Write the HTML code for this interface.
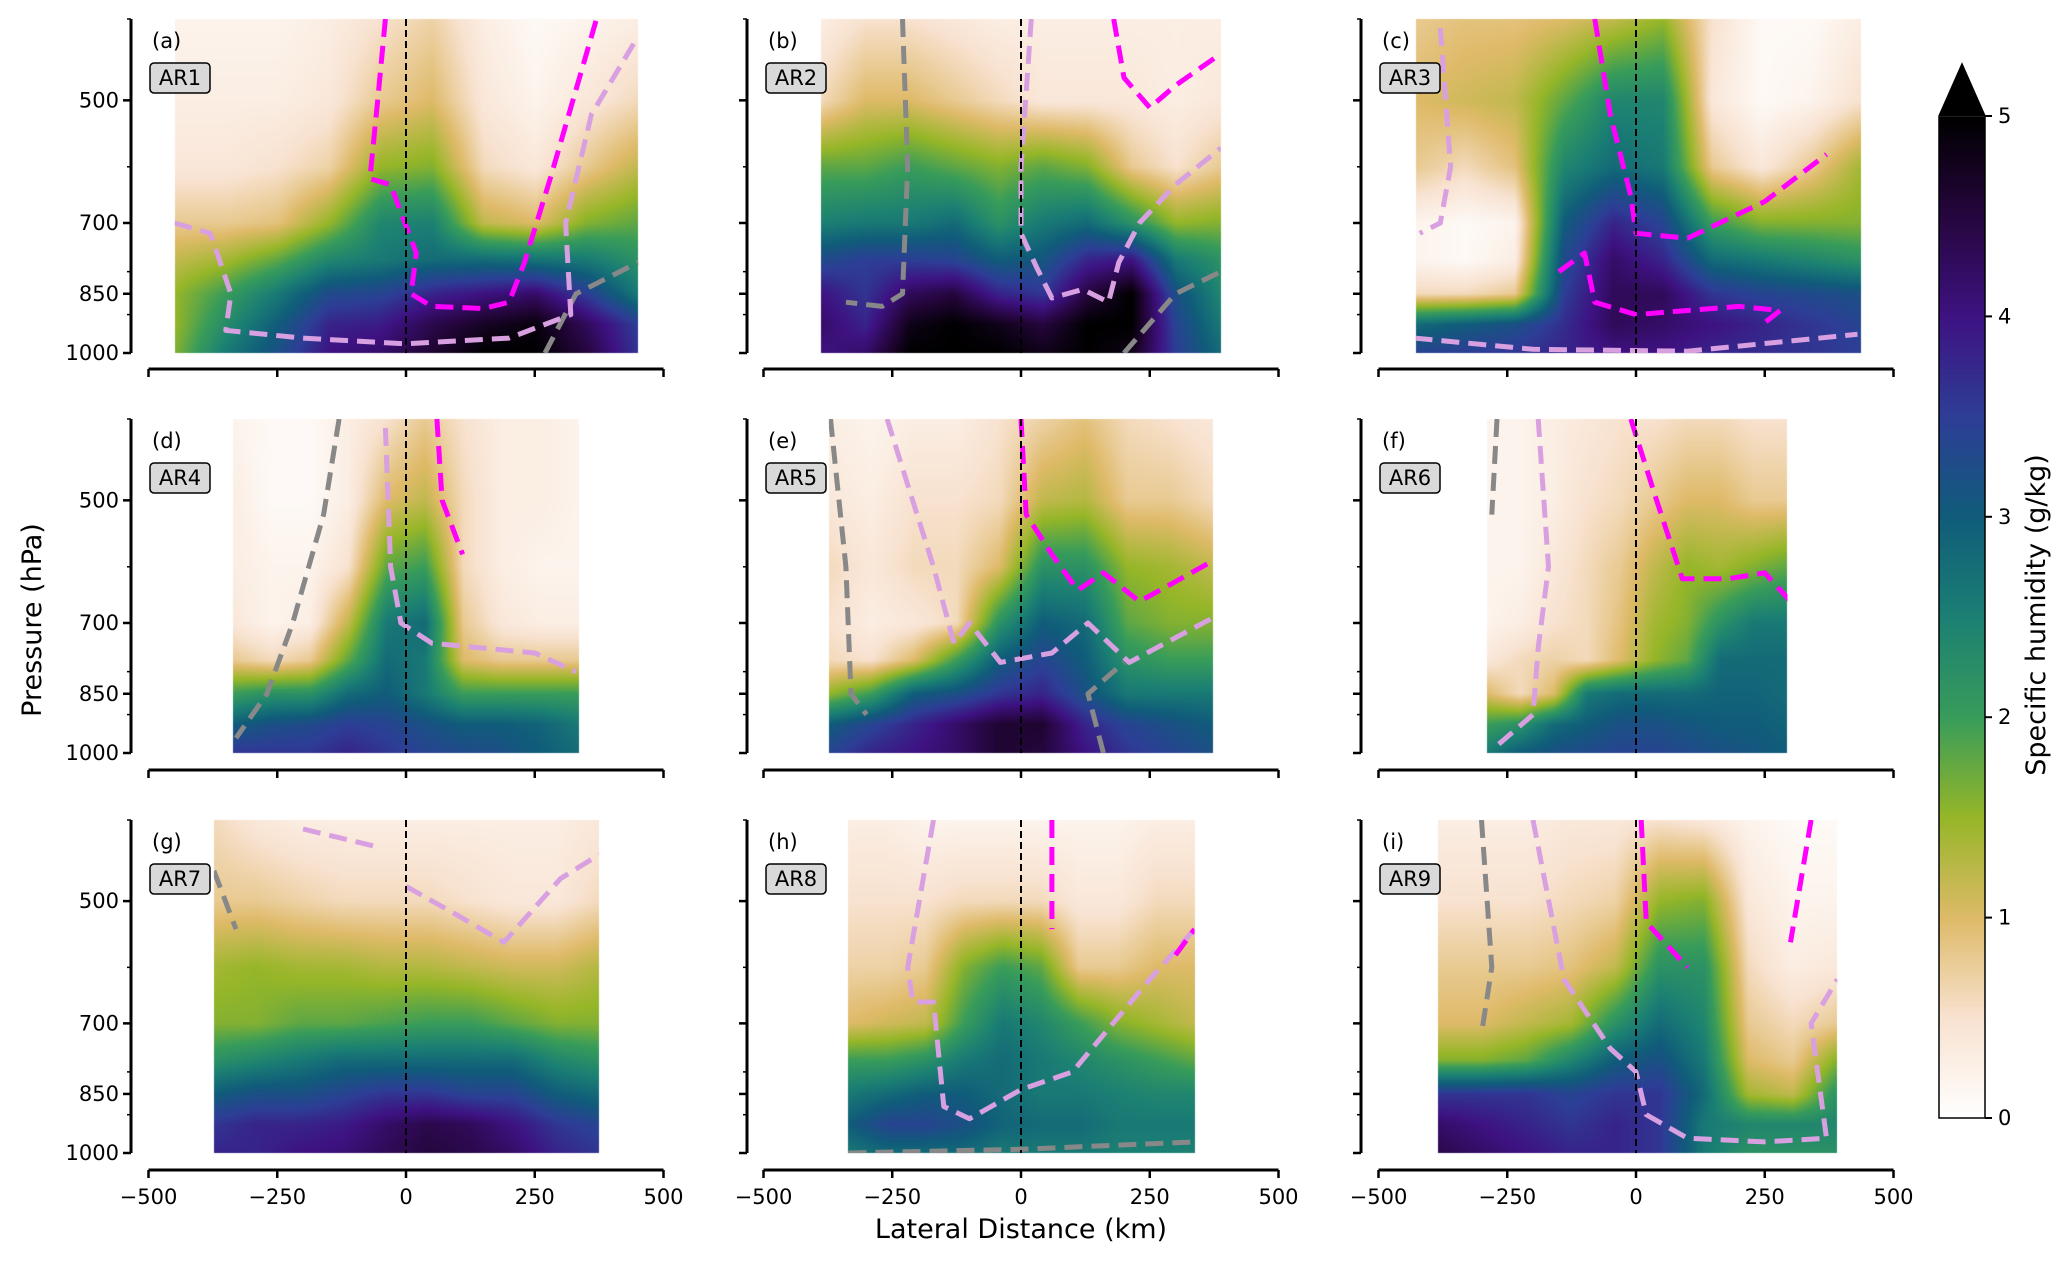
<!DOCTYPE html>
<html><head><meta charset="utf-8">
<style>
html,body{margin:0;padding:0;background:#fff;}
#wrap{position:relative;width:2067px;height:1261px;overflow:hidden;font-family:"DejaVu Sans","Liberation Sans",sans-serif;}
canvas,svg{position:absolute;left:0;top:0;}
</style></head>
<body>
<div id="wrap">
<canvas id="cv" width="2067" height="1261"></canvas>
<svg id="sv" width="2067" height="1261" xmlns="http://www.w3.org/2000/svg"></svg>
</div>
<script>
// ---- data ----
const levels = [400,500,600,700,775,850,925,1000];
const panelIds = ['a','b','c','d','e','f','g','h','i'];
const panelNames = ['AR1','AR2','AR3','AR4','AR5','AR6','AR7','AR8','AR9'];
const extents = [[-449,451],[-388,388],[-427,436],[-335,335],[-373,373],[-289,294],[-373,375],[-335,337],[-385,391]];
const qA = [[.2,.2,.2,.3,.5,.7,.3,.1,.2,.3],[.3,.3,.3,.4,.8,1.0,.4,.2,.4,.6],[.4,.4,.5,.7,1.5,1.6,.6,.4,.8,1.2],[.8,.8,.9,1.5,2.4,2.5,1.2,1.0,1.6,1.8],[1.2,1.4,1.8,2.4,2.6,2.8,2.8,2.7,2.6,2.2],[1.5,2.0,2.6,3.3,3.4,3.8,4.0,4.2,3.5,2.6],[1.5,2.3,3.0,3.8,3.9,4.4,4.7,4.9,4.3,3.5],[1.6,2.6,3.2,4.0,4.2,4.6,5,5,4.5,3.6]];
const qB = [[.3,.5,.5,.4,.3,.3,.3,.3,.3,.3],[.6,1.0,1.0,.8,.6,.4,.4,.4,.3,.4],[1.8,1.8,2.0,1.8,1.6,1.8,1.6,.8,.5,.8],[2.5,2.6,2.6,2.8,2.2,2.6,2.8,2.2,1.5,1.6],[3.3,3.5,3.5,3.4,3.0,3.1,3.8,4.0,2.6,2.2],[4.0,3.6,4.3,4.5,3.8,3.6,4.5,5,3.2,2.4],[4.2,3.8,4.8,5,4.8,4.5,5,5,3.4,2.6],[4.0,4.2,5,5,5,4.8,5,4.8,3.5,2.8]];
const qC = [[.8,.9,.9,1.0,1.2,1.5,.5,.1,.1,.3],[1.0,1.1,1.2,1.8,2.4,2.4,.4,.1,.2,.5],[.8,.6,.9,2.4,2.8,2.6,.8,.4,.8,1.4],[.2,.1,.2,3.0,3.8,3.4,2.0,1.6,1.6,1.6],[.2,.1,.3,3.3,4.2,3.8,2.8,2.6,2.4,2.2],[.6,.6,.8,3.5,4.3,4.3,3.6,3.4,3.3,3.2],[2.8,3.0,3.2,3.7,4.3,4.2,4.0,3.8,3.6,3.4],[3.4,3.5,3.6,3.8,4.0,4.0,3.8,3.7,3.6,3.5]];
const qD = [[.2,.1,.1,.3,.5,.8,.5,.3,.3,.2],[.3,.1,.1,.3,1.0,1.2,.6,.3,.3,.2],[.3,.2,.2,.5,1.8,2.0,.6,.3,.2,.2],[.4,.2,.3,1.2,2.6,2.8,.8,.4,.3,.3],[.8,.6,.8,1.8,2.8,2.6,1.0,.8,.8,.8],[2.0,2.2,2.2,2.8,3.0,2.6,2.0,2.0,2.0,2.0],[3.0,3.2,3.3,3.5,3.4,3.2,3.0,3.0,2.9,2.6],[3.6,3.6,3.6,3.8,3.6,3.4,3.3,3.2,3.0,2.8]];
const qE = [[.3,.2,.3,.3,.5,.7,.9,.6,.5,.4],[.4,.3,.5,.5,.6,1.2,1.3,.8,.8,.6],[.6,.4,.6,.6,1.0,2.2,2.2,1.5,1.4,1.2],[.5,.3,.4,.6,2.2,3.0,2.8,1.8,1.6,1.6],[.6,.5,1.0,2.0,3.0,3.4,3.0,2.2,2.0,2.0],[1.5,2.0,3.0,3.2,3.6,3.8,3.2,2.6,2.6,2.6],[3.0,3.4,3.8,4.2,4.6,4.6,3.8,3.4,3.2,3.0],[3.4,3.8,4.0,4.2,4.6,4.5,4.0,3.6,3.4,3.2]];
const qF = [[.2,.2,.3,.4,.5,.5,.6,.6,.5,.5],[.2,.2,.3,.5,.6,.8,1.0,1.0,.8,.8],[.2,.2,.4,.6,.8,1.2,1.5,1.4,1.6,1.8],[.2,.3,.5,.6,.9,1.4,1.6,2.2,2.6,2.6],[.4,.6,.7,.6,1.0,1.5,1.8,2.8,2.8,2.8],[1.0,.6,1.0,2.6,2.8,2.8,2.8,2.9,2.9,2.8],[2.0,2.2,2.8,3.0,3.2,3.2,3.1,3.0,3.0,2.9],[2.6,3.0,3.2,3.3,3.4,3.4,3.3,3.2,3.1,3.0]];
const qG = [[.6,.4,.3,.3,.3,.3,.3,.3,.3,.4],[.8,.8,.7,.6,.6,.6,.5,.4,.4,.6],[1.4,1.5,1.4,1.4,1.3,1.3,1.2,1.1,1.1,1.3],[1.6,1.6,1.8,1.8,1.9,2.0,2.0,1.8,1.6,1.6],[2.2,2.4,2.6,2.8,2.8,2.8,2.8,2.8,2.4,2.2],[3.0,3.2,3.2,3.4,3.6,3.6,3.4,3.4,3.0,2.8],[3.6,3.8,3.8,3.9,4.2,4.4,4.3,4.0,3.6,3.4],[3.8,3.8,4.0,4.1,4.3,4.5,4.4,4.2,3.8,3.6]];
const qH = [[.3,.3,.2,.2,.2,.2,.2,.2,.3,.3],[.5,.5,.5,.6,.6,.6,.4,.4,.6,.6],[.7,.7,.8,1.6,2.0,1.8,.8,.8,1.0,1.0],[1.0,1.1,1.2,2.0,2.6,2.4,2.0,1.6,1.4,1.2],[2.0,2.0,2.2,2.6,2.8,2.6,2.4,2.2,2.0,1.8],[2.6,2.8,3.0,3.0,2.8,2.6,2.6,2.5,2.4,2.4],[3.0,3.4,3.4,3.2,2.9,2.8,2.8,2.6,2.6,2.6],[2.6,2.8,2.8,2.8,2.6,2.6,2.6,2.5,2.5,2.5]];
const qI = [[.3,.3,.3,.4,.4,.5,.4,.2,.1,.1],[.5,.5,.5,.6,.7,1.5,1.6,.4,.2,.2],[.8,.8,.8,.9,1.2,2.2,2.2,.6,.3,.4],[1.0,1.0,1.2,1.4,2.2,2.8,2.4,.8,.6,.8],[1.6,1.6,1.8,2.4,3.0,3.2,2.6,1.0,.8,1.6],[3.6,3.6,3.6,3.4,3.6,3.6,2.8,1.4,1.2,2.2],[4.2,4.0,3.8,3.6,3.8,3.6,2.6,2.4,2.4,2.4],[4.4,4.2,4.0,3.8,3.8,3.6,2.6,2.2,2.2,2.2]];
const qData = [qA,qB,qC,qD,qE,qF,qG,qH,qI];
// wind speed contours [km, hPa]
const magentaLines = [
 [[[-40,400],[-55,500],[-70,620],[-30,630],[-10,680],[20,760],[10,850],[50,880],[150,885],[200,870],[230,780],[280,620],[370,400]]],
 [[[180,400],[200,470],[250,510],[300,480],[388,440]]],
 [[[-80,400],[-50,520],[-10,650],[0,720],[100,730],[250,660],[370,580]],[[-150,800],[-100,760],[-80,870],[0,900],[200,880],[280,890],[250,920]]],
 [[[60,400],[70,500],[110,580]]],
 [[[0,400],[10,520],[60,580],[110,640],[160,610],[230,660],[373,590]]],
 [[[-10,400],[40,500],[90,620],[180,620],[250,610],[300,660]]],
 [],
 [[[60,400],[60,540]],[[300,580],[337,540]]],
 [[[10,400],[20,530],[100,600]],[[340,400],[300,560]]]
];
const lilacLines = [
 [[[-450,700],[-380,720],[-340,850],[-350,940],[-200,960],[0,975],[200,960],[320,900],[310,700],[360,520],[450,420]]],
 [[[20,400],[0,600],[0,720],[30,790],[60,860],[120,840],[170,870],[190,780],[230,700],[300,630],[388,570]]],
 [[[-380,410],[-360,600],[-380,700],[-420,720]],[[-430,960],[-200,990],[100,995],[430,950]]],
 [[[-40,410],[-30,600],[-10,700],[50,740],[250,760],[330,800]]],
 [[[-260,400],[-170,600],[-130,740],[-100,700],[-40,780],[60,760],[130,700],[210,780],[373,690]]],
 [[[-190,400],[-170,600],[-190,750],[-200,900],[-270,980]]],
 [[[-200,410],[-60,430]],[[0,480],[100,520],[190,560],[300,470],[375,440]]],
 [[[-170,400],[-220,600],[-210,660],[-170,660],[-150,880],[-100,910],[0,840],[100,800],[250,620],[337,540]]],
 [[[-200,400],[-140,620],[-50,750],[0,800],[20,900],[100,960],[250,970],[370,960],[340,700],[391,620]]]
];
const grayLines = [
 [[[270,1000],[330,850],[451,780]]],
 [[[-230,400],[-220,600],[-230,850],[-270,880],[-340,870]],[[200,1000],[300,850],[388,800]]],
 [],
 [[[-130,400],[-160,520],[-220,700],[-270,850],[-330,960]]],
 [[[-370,400],[-340,600],[-330,850],[-300,900]],[[160,1000],[130,850],[200,780]]],
 [[[-270,400],[-280,520]]],
 [[[-373,460],[-330,540]]],
 [[[-335,1000],[0,990],[337,970]]],
 [[[-300,400],[-280,600],[-300,720]]]
];
const cbTicks = [0,1,2,3,4,5];
const xTicks = [-500,-250,0,250,500];
const yTicks = [500,700,850,1000];
const yMinor = [400,600,800,900];

// ---- layout ----
const colSpine=[131,747,1361], colZero=[406,1021,1636], sc=0.515;
const rowTop=[19,419,820], rowBot=[353,753,1153], rowAxis=[369,770,1170];
const L0=Math.log(400), L1=Math.log(1000);
function xS(c,km){return colZero[c]+km*sc;}
function yS(r,p){return rowTop[r]+(Math.log(p)-L0)/(L1-L0)*(rowBot[r]-rowTop[r]);}

const cmapV=[0,.5,1,1.5,2,2.5,3,3.5,4,4.5,5];
const cmapC=[[255,255,255],[248,226,208],[222,186,104],[150,182,40],[56,156,90],[27,128,115],[16,92,122],[45,62,150],[62,18,130],[38,6,62],[0,0,0]];
function cmap(v){v=Math.max(0,Math.min(5,v));let i=Math.min(9,Math.floor(v/0.5));let t=(v-cmapV[i])/0.5;const a=cmapC[i],b=cmapC[i+1];return [a[0]+(b[0]-a[0])*t,a[1]+(b[1]-a[1])*t,a[2]+(b[2]-a[2])*t];}

const cv=document.getElementById('cv'),ctx=cv.getContext('2d');
const img=ctx.createImageData(2067,1261);
const lnLev=levels.map(Math.log);
function interpField(q,ext,km,p){
  const n=q[0].length;let fx=(km-ext[0])/(ext[1]-ext[0])*(n-1);fx=Math.max(0,Math.min(n-1,fx));
  const i0=Math.min(n-2,Math.floor(fx)),tx=fx-i0;
  const lp=Math.log(p);let j0=0;while(j0<levels.length-2&&lp>lnLev[j0+1])j0++;
  let ty=(lp-lnLev[j0])/(lnLev[j0+1]-lnLev[j0]);ty=Math.max(0,Math.min(1,ty));
  const a=q[j0][i0]*(1-tx)+q[j0][i0+1]*tx, b=q[j0+1][i0]*(1-tx)+q[j0+1][i0+1]*tx;
  return a*(1-ty)+b*ty;
}
for(let k=0;k<9;k++){
  const r=Math.floor(k/3),c=k%3,ext=extents[k],q=qData[k];
  const x0=Math.round(xS(c,ext[0])),x1=Math.round(xS(c,ext[1]));
  for(let y=rowTop[r];y<rowBot[r];y++){
    const p=Math.exp(L0+(y+0.5-rowTop[r])/(rowBot[r]-rowTop[r])*(L1-L0));
    for(let x=x0;x<x1;x++){
      const km=(x+0.5-colZero[c])/sc;
      const col=cmap(interpField(q,ext,km,p));
      const o=(y*2067+x)*4;img.data[o]=col[0];img.data[o+1]=col[1];img.data[o+2]=col[2];img.data[o+3]=255;
    }
  }
}
// colorbar
const cbL=1939,cbR=1985,cbT=116,cbB=1118;
for(let y=cbT;y<cbB;y++){const col=cmap((cbB-y)/(cbB-cbT)*5);for(let x=cbL;x<cbR;x++){const o=(y*2067+x)*4;img.data[o]=col[0];img.data[o+1]=col[1];img.data[o+2]=col[2];img.data[o+3]=255;}}
ctx.putImageData(img,0,0);

// ---- svg overlay ----
const NS='http://www.w3.org/2000/svg',sv=document.getElementById('sv');
function el(tag,attrs,parent){const e=document.createElementNS(NS,tag);for(const k in attrs)e.setAttribute(k,attrs[k]);(parent||sv).appendChild(e);return e;}
function txt(s,attrs,parent){const e=el('text',attrs,parent);e.textContent=s;return e;}

for(let k=0;k<9;k++){
  const r=Math.floor(k/3),c=k%3;
  const g=el('g',{});
  
  
  const cid='clip'+k;const cp=el('clipPath',{id:cid},g);
  el('rect',{x:xS(c,extents[k][0]),y:rowTop[r],width:(extents[k][1]-extents[k][0])*sc,height:rowBot[r]-rowTop[r]},cp);
  const lg=el('g',{'clip-path':'url(#'+cid+')'},g);
  const drawIn=(sets,color,w,dash,name)=>{sets.forEach(pts=>{
    const pl=el('polyline',{points:pts.map(p=>xS(c,p[0]).toFixed(1)+','+yS(r,p[1]).toFixed(1)).join(' '),fill:'none',stroke:color,'stroke-width':w,'stroke-dasharray':dash,'stroke-linejoin':'round'},lg);
    
    
  });};
  drawIn(grayLines[k],'#888',5,'18 9','wind-contour-15');
  drawIn(lilacLines[k],'#d8a0e0',5,'18 9','wind-contour-25');
  drawIn(magentaLines[k],'#ff00ff',5,'18 9','wind-contour-35');
  const zl=el('line',{x1:colZero[c],x2:colZero[c],y1:rowTop[r],y2:rowBot[r],stroke:'#000','stroke-width':2,'stroke-dasharray':'7 4'},g);
  
  
  const ys=el('line',{x1:colSpine[c],x2:colSpine[c],y1:rowTop[r],y2:rowBot[r],stroke:'#000','stroke-width':3},g);
  
  
  yTicks.forEach(p=>{const y=yS(r,p);el('line',{x1:colSpine[c]-8,x2:colSpine[c],y1:y,y2:y,stroke:'#000','stroke-width':2.5},g);
    if(c===0){const t=txt(String(p),{x:colSpine[c]-12,y:y+7,'text-anchor':'end','font-size':21,fill:'#000'},g);
      
      }});
  yMinor.forEach(p=>{const y=yS(r,p);el('line',{x1:colSpine[c]-4,x2:colSpine[c],y1:y,y2:y,stroke:'#000','stroke-width':1.5},g);});
  const xa=el('line',{x1:xS(c,-500),x2:xS(c,500),y1:rowAxis[r],y2:rowAxis[r],stroke:'#000','stroke-width':3},g);
  
  
  xTicks.forEach(v=>{const x=xS(c,v);el('line',{x1:x,x2:x,y1:rowAxis[r],y2:rowAxis[r]+8,stroke:'#000','stroke-width':2.5},g);
    if(r===2){const t=txt(String(v).replace('-','\u2212'),{x:x,y:rowAxis[r]+34,'text-anchor':'middle','font-size':21,fill:'#000'},g);
      
      }});
  const pl=txt('('+panelIds[k]+')',{x:colSpine[c]+21,y:rowTop[r]+29,'font-size':21,fill:'#000'},g);
  
  
  const bx=el('rect',{x:colSpine[c]+19,y:rowTop[r]+44,width:60,height:30,rx:4,fill:'#d9d9d9',stroke:'#000','stroke-width':1.5},g);
  
  
  const at=txt(panelNames[k],{x:colSpine[c]+49,y:rowTop[r]+66,'text-anchor':'middle','font-size':21,fill:'#000'},g);
  
  
}
const xl=txt('Lateral Distance (km)',{x:1021,y:1238,'text-anchor':'middle','font-size':27,fill:'#000'});


const yl=txt('Pressure (hPa)',{x:0,y:0,'text-anchor':'middle','font-size':27,fill:'#000',transform:'translate(41,620) rotate(-90)'});


const cbg=el('g',{});


el('polygon',{points:`${cbL},${cbT} ${(cbL+cbR)/2},64 ${cbR},${cbT}`,fill:'#000'},cbg);
el('polygon',{points:`${cbL},${cbB} ${cbL},${cbT} ${(cbL+cbR)/2},64 ${cbR},${cbT} ${cbR},${cbB}`,fill:'none',stroke:'#000','stroke-width':1.5},cbg);
cbTicks.forEach(v=>{const y=cbB-v/5*(cbB-cbT);el('line',{x1:cbR,x2:cbR+7,y1:y,y2:y,stroke:'#000','stroke-width':2},cbg);
  const t=txt(String(v),{x:cbR+13,y:y+7,'font-size':21,fill:'#000'},cbg);
  
  });
const ct=txt('Specific humidity (g/kg)',{x:0,y:0,'text-anchor':'middle','font-size':27,fill:'#000',transform:'translate(2045,615) rotate(-90)'},cbg);


</script>
</body></html>
